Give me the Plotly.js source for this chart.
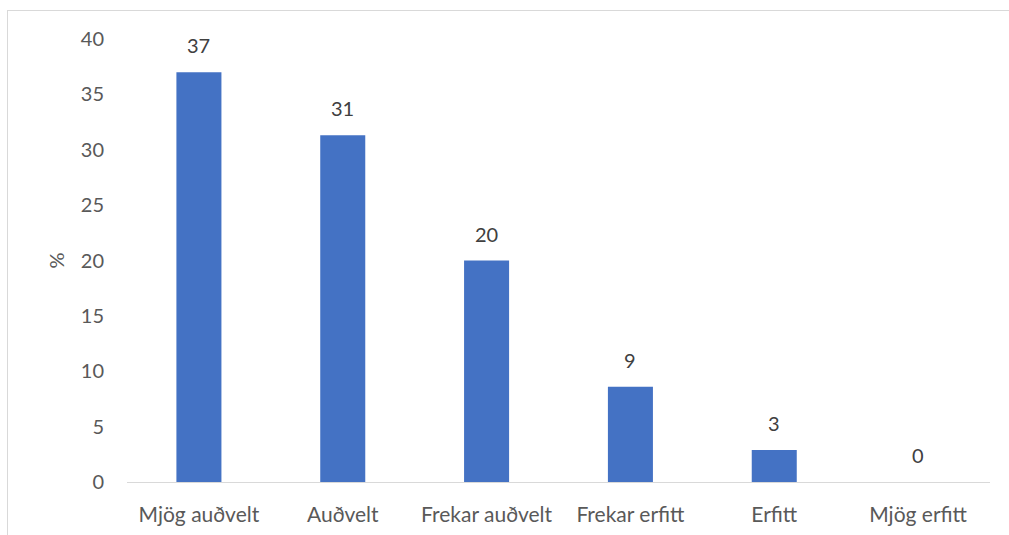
<!DOCTYPE html>
<html>
<head>
<meta charset="utf-8">
<script src="https://cdn.plot.ly/plotly-3.0.1.min.js"></script>
<style>
    html, body { margin: 0; padding: 0; background: #fff; }
    #chart { width: 1009px; height: 535px; }
    #frame {
        position: absolute; left: 7px; top: 10px;
        width: 1010px; height: 540px;
        border: 1px solid #d9d9d9; pointer-events: none;
    }
</style>
</head>
<body>
<div id="chart"></div>
<div id="frame"></div>
<script>
const CATEGORIES = [
    "Mjög auðvelt", "Auðvelt", "Frekar auðvelt",
    "Frekar erfitt", "Erfitt", "Mjög erfitt",
];
const VALUES = [37.0, 31.3, 20.0, 8.6, 2.9, 0];
const LABELS = ["37", "31", "20", "9", "3", "0"];
const Y_TICKS = [0, 5, 10, 15, 20, 25, 30, 35, 40];

const BAR_COLOR = "#4472c4";
const FONT = "Lato, 'Open Sans', sans-serif";
const SIZE = 20;

const traces = [{
    type: "bar",
    x: CATEGORIES,
    y: VALUES,
    marker: { color: BAR_COLOR },
    hoverinfo: "skip",
}];

// value labels sit a little above each bar top
const annotations = CATEGORIES.map((c, i) => ({
    x: c, y: VALUES[i], xref: "x", yref: "y",
    text: LABELS[i], showarrow: false,
    yanchor: "middle", yshift: 27,
    font: { family: FONT, size: SIZE, color: "#404040" },
}));

const layout = {
    width: 1009,
    height: 535,
    margin: { t: 39, b: 53, l: 127, r: 19 },
    paper_bgcolor: "#fff",
    plot_bgcolor: "#fff",
    bargap: 0.687,
    showlegend: false,
    annotations,
    font: { family: FONT, size: SIZE, color: "#595959" },
    xaxis: {
        type: "category",
        showline: true,
        linecolor: "#d9d9d9",
        linewidth: 1,
        showgrid: false,
        zeroline: false,
        ticks: "",
        ticklabelstandoff: 14,
        tickfont: { family: FONT, size: 21, color: "#595959" },
    },
    yaxis: {
        range: [0, 40],
        tickvals: Y_TICKS,
        showgrid: false,
        zeroline: false,
        showline: false,
        ticks: "",
        ticklabelstandoff: 22,
        tickfont: { family: FONT, size: SIZE, color: "#595959" },
        title: { text: "%", standoff: 10, font: { family: FONT, size: SIZE, color: "#595959" } },
    },
};

Plotly.newPlot("chart", traces, layout, { displayModeBar: false, responsive: false });
</script>
</body>
</html>
